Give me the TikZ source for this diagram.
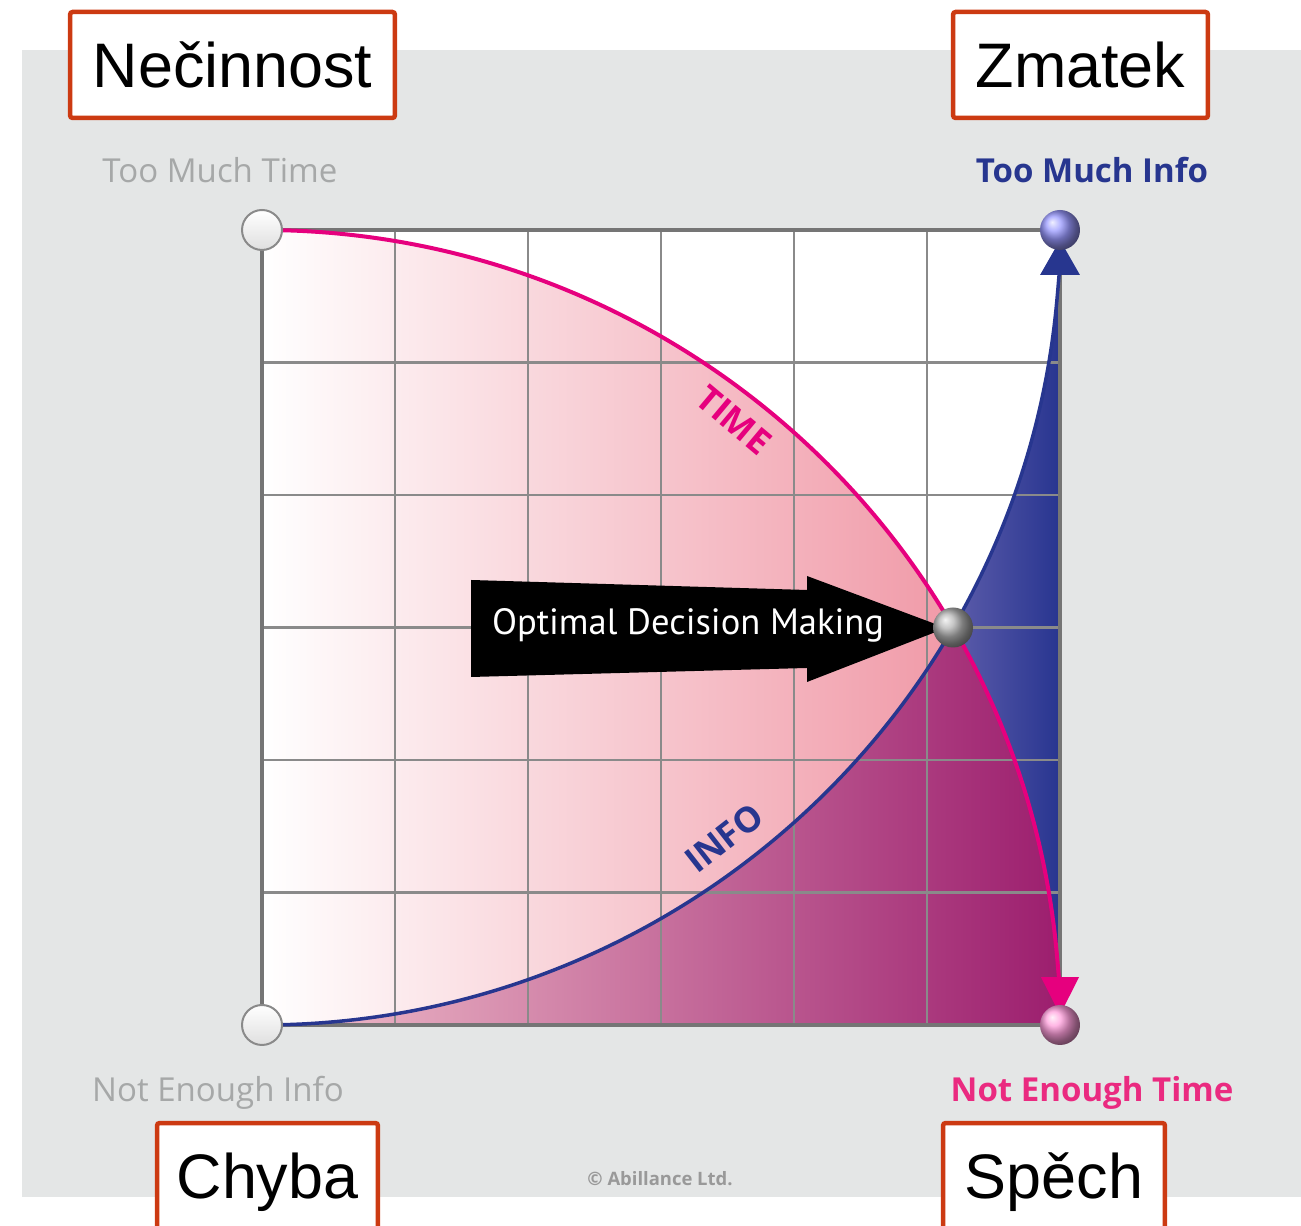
\documentclass[tikz,border=0pt]{standalone}
\usepackage{fontspec}
\setmainfont{Liberation Sans}
\newfontfamily\ptsans{PT Sans}
\newfontfamily\opensans{Open Sans}
\usetikzlibrary{arrows.meta,shadings}
\definecolor{bggray}{HTML}{E4E6E6}
\definecolor{boxred}{HTML}{CC3A12}
\definecolor{timepink}{HTML}{E6007E}
\definecolor{infoblue}{HTML}{27368F}
\definecolor{gridgray}{HTML}{8A8A8A}
\definecolor{bordergray}{HTML}{757575}
\definecolor{pinkR}{HTML}{EE8A9A}
\definecolor{magL}{HTML}{F2C2CC}
\definecolor{magR}{HTML}{9C1E6E}
\definecolor{blueL}{HTML}{5C5CAA}
\definecolor{blueR}{HTML}{283590}
\definecolor{lblgray}{HTML}{A6A8A8}
\definecolor{lblpink}{HTML}{EA2A80}
\begin{document}
\begin{tikzpicture}[x=0.02cm,y=0.02cm,
  redbox/.style={draw=boxred, line width=0.09cm, fill=white, rounded corners=1.5pt,
    font=\fontsize{35.8}{40}\selectfont, text height=0.9cm, text depth=0pt,
    inner sep=0pt, minimum height=2.12cm},
  cornerlbl/.style={font=\opensans\fontsize{18.8}{22}\selectfont, anchor=base, inner sep=0pt},
  cornerbold/.style={font=\opensans\bfseries\fontsize{18.8}{22}\selectfont, anchor=base, inner sep=0pt},
  gridline/.style={draw=gridgray, line width=0.045cm},
  timeline/.style={draw=timepink, line width=0.08cm},
  infoline/.style={draw=infoblue, line width=0.07cm},
  plainball/.style={circle, minimum size=0.8cm, inner sep=0pt, draw=gridgray, line width=0.04cm, top color=white, bottom color=gray!25},
  colorball/.style={circle, minimum size=0.8cm, inner sep=0pt, shading=ball, ball color=#1},
  curvelbl/.style={font=\opensans\bfseries\fontsize{20}{22}\selectfont, inner sep=0pt}
]
\path[use as bounding box] (0,0) rectangle (1301,1226);
\begin{scope}
\clip (0,0) rectangle (1301,1226);
% background
\fill[bggray] (22,29) rectangle (1301,1176);
% chart square
\fill[white] (262,201) rectangle (1060,996);
% pink region inside time ellipse
\shade[left color=white, right color=pinkR]
  (262,201) -- (262,996) arc[start angle=90, end angle=0, x radius=798, y radius=795] -- cycle;
% magenta region below info curve, inside time ellipse
\shade[left color=magL, right color=magR]
  (262,201) arc[start angle=270, end angle=330, x radius=798, y radius=795]
  arc[start angle=30, end angle=0, x radius=798, y radius=795] -- cycle;
% blue region
\shade[left color=blueL, right color=blueR]
  (1060,201) arc[start angle=0, end angle=30, x radius=798, y radius=795]
  arc[start angle=330, end angle=360, x radius=798, y radius=795] -- cycle;
% grid
\begin{scope}[shift={(262,201)}]
\draw[gridline, xstep=133, ystep=132.5] (0,0) grid (798,795);
\end{scope}
\draw[draw=bordergray, line width=0.07cm] (262,201) rectangle (1060,996);
% corner points
\coordinate (tlc) at (262,996);
\coordinate (blc) at (262,201);
\coordinate (trc) at (1060,996);
\coordinate (brc) at (1060,201);
% curves
\draw[timeline] (tlc) arc[start angle=90, end angle=6, x radius=798, y radius=795] coordinate (tend);
\draw[timeline, -{Triangle[width=0.74cm,length=0.76cm]}, shorten >=0.2cm]
  (tend) arc[start angle=6, end angle=0, x radius=798, y radius=795];
\draw[infoline] (blc) arc[start angle=270, end angle=354, x radius=798, y radius=795] coordinate (iend);
\draw[infoline, -{Triangle[width=0.78cm,length=0.7cm]}, shorten >=0.2cm]
  (iend) arc[start angle=354, end angle=360, x radius=798, y radius=795];
\node[curvelbl, text=timepink, rotate=-40] (timelbl) at (734,806) {TIME};
\node[curvelbl, text=infoblue, rotate=38] (infolbl) at (724,388) {INFO};
% balls
\node[plainball] (tl) at (tlc) {};
\node[plainball] (bl) at (blc) {};
% optimal arrow
\fill[black] (471,646) -- (807,636) -- (807,650) -- (946,598) -- (807,544) -- (807,558) -- (471,549) -- cycle;
\node[font=\ptsans\fontsize{20.8}{24}\selectfont, text=white, inner sep=0pt] (opt) at (688,601) {Optimal Decision Making};
% colored balls
\node[colorball=blue!40!white] (tr) at (trc) {};
\node[colorball=pink!70!magenta!80!white] (br) at (brc) {};
\node[colorball=gray!60] (mid) at (953,598.5) {};
% corner labels
\node[cornerlbl, text=lblgray] (tmt) at (220,1043) {Too Much Time};
\node[cornerbold, text=infoblue] (tmi) at (1092,1043) {Too Much Info};
\node[cornerlbl, text=lblgray] (nei) at (218,124) {Not Enough Info};
\node[cornerbold, text=lblpink] (net) at (1092,124) {Not Enough Time};
\node[font=\opensans\bfseries\fontsize{10.5}{12}\selectfont, text=gray!80, inner sep=0pt] (copy) at (660,47) {© Abillance Ltd.};
% red boxes
\node[redbox, minimum width=6.5cm] (b1) at (232.5,1161) {Nečinnost};
\node[redbox, minimum width=5.1cm] (b2) at (1080.5,1161) {Zmatek};
\node[redbox, minimum width=4.42cm] (b3) at (267.5,50) {Chyba};
\node[redbox, minimum width=4.44cm] (b4) at (1054,50) {Spěch};
\end{scope}
\end{tikzpicture}
\end{document}
